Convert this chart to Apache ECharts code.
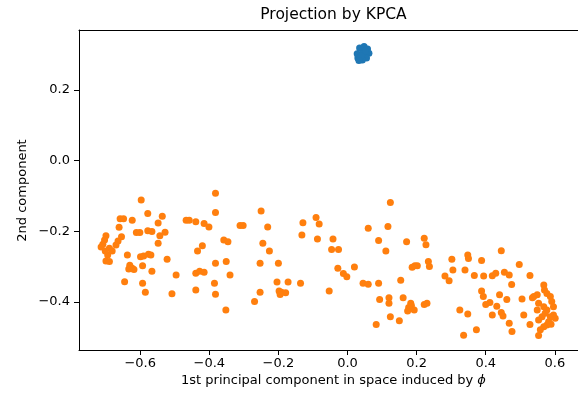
<!DOCTYPE html>
<html>
<head>
<meta charset="utf-8">
<script src="https://cdn.jsdelivr.net/npm/echarts@6/dist/echarts.min.js"></script>
<style>
  html, body { margin: 0; padding: 0; background: #fff; }
  #chart { width: 578px; height: 395px; }
</style>
</head>
<body>
<div id="chart"></div>
<script>
// Class 0: the tight cluster of the inner ring after projection
const blueX = [0.035, 0.048, 0.058, 0.062, 0.055, 0.043, 0.030, 0.028, 0.045, 0.040, 0.052, 0.033];
const blueY = [0.318, 0.322, 0.315, 0.303, 0.290, 0.284, 0.290, 0.302, 0.305, 0.296, 0.310, 0.283];

// Class 1: the outer ring, spread along the first component
const orangeX = [
  -0.597, -0.578, -0.536, -0.658, -0.648, -0.623, -0.548, -0.467, -0.458, -0.661,
  -0.611, -0.601, -0.578, -0.566, -0.528, -0.543, -0.699, -0.654, -0.664, -0.708,
  -0.548, -0.689, -0.670, -0.703, -0.694, -0.699, -0.689, -0.713, -0.701, -0.681,
  -0.637, -0.599, -0.590, -0.576, -0.569, -0.522, -0.630, -0.623, -0.618, -0.633,
  -0.593, -0.566, -0.496, -0.645, -0.593, -0.585, -0.508,
  -0.382, -0.382, -0.250, -0.439, -0.415, -0.401, -0.311, -0.302, -0.231, -0.358,
  -0.346, -0.420, -0.434, -0.245, -0.226, -0.382, -0.351, -0.253, -0.200, -0.439,
  -0.428, -0.415, -0.340, -0.385, -0.204, -0.172, -0.439, -0.382, -0.253, -0.198,
  -0.191, -0.179, -0.195, -0.269, -0.352,
  -0.136, -0.129, -0.091, -0.082, -0.132, -0.087, -0.042, -0.046, -0.026, -0.028,
  -0.012, -0.002, 0.020, -0.053, 0.045, 0.060, 0.090, 0.060, 0.090, 0.117,
  0.111, 0.124, 0.093, 0.120, 0.120, 0.124, 0.150, 0.083, 0.154, 0.161,
  0.171, 0.222, 0.227, 0.187, 0.195, 0.202, 0.234, 0.237, 0.302, 0.348,
  0.350, 0.388, 0.305, 0.340, 0.367, 0.394, 0.282, 0.294, 0.183, 0.177,
  0.185, 0.193, 0.174, 0.222, 0.230, 0.325, 0.348, 0.388, 0.393, 0.336, 0.373,
  0.445, 0.497, 0.528, 0.419, 0.429, 0.454, 0.468, 0.475, 0.440, 0.461,
  0.505, 0.412, 0.400, 0.432, 0.419, 0.445, 0.450, 0.468, 0.476, 0.510, 0.528,
  0.568, 0.570, 0.577, 0.587, 0.591, 0.596, 0.596, 0.587, 0.582, 0.577,
  0.568, 0.558, 0.553, 0.563, 0.553, 0.549, 0.539, 0.549, 0.553, 0.568,
  0.577, 0.572, 0.535, 0.601, 0.589
];
const orangeY = [
  -0.112, -0.150, -0.158, -0.165, -0.165, -0.169, -0.177, -0.169, -0.169, -0.189,
  -0.204, -0.204, -0.199, -0.201, -0.203, -0.213, -0.213, -0.216, -0.228, -0.237,
  -0.234, -0.248, -0.239, -0.225, -0.267, -0.284, -0.286, -0.245, -0.256, -0.256,
  -0.267, -0.272, -0.270, -0.265, -0.267, -0.279, -0.296, -0.305, -0.308, -0.307,
  -0.298, -0.313, -0.324, -0.343, -0.347, -0.373, -0.377,
  -0.093, -0.147, -0.143, -0.173, -0.178, -0.188, -0.184, -0.184, -0.188, -0.225,
  -0.230, -0.241, -0.256, -0.234, -0.256, -0.291, -0.286, -0.291, -0.291, -0.319,
  -0.313, -0.316, -0.324, -0.347, -0.344, -0.344, -0.366, -0.378, -0.373, -0.369,
  -0.373, -0.374, -0.379, -0.399, -0.423,
  -0.347, -0.176, -0.161, -0.180, -0.211, -0.222, -0.222, -0.252, -0.252, -0.305,
  -0.320, -0.329, -0.301, -0.369, -0.347, -0.350, -0.347, -0.192, -0.226, -0.187,
  -0.256, -0.119, -0.393, -0.388, -0.404, -0.442, -0.453, -0.464, -0.339, -0.388,
  -0.230, -0.220, -0.238, -0.302, -0.298, -0.298, -0.286, -0.300, -0.279, -0.267,
  -0.277, -0.283, -0.310, -0.310, -0.325, -0.327, -0.327, -0.340, -0.404, -0.416,
  -0.411, -0.423, -0.426, -0.407, -0.404, -0.423, -0.434, -0.369, -0.385, -0.494, -0.479,
  -0.255, -0.294, -0.325, -0.326, -0.319, -0.316, -0.324, -0.351, -0.380, -0.393,
  -0.392, -0.402, -0.407, -0.412, -0.437, -0.430, -0.440, -0.460, -0.484, -0.437, -0.464,
  -0.352, -0.366, -0.376, -0.385, -0.399, -0.414, -0.437, -0.442, -0.456, -0.465,
  -0.470, -0.479, -0.495, -0.442, -0.451, -0.423, -0.385, -0.380, -0.404, -0.414,
  -0.423, -0.432, -0.388, -0.446, -0.463
];

// Tick positions
const xTicks = [-0.6, -0.4, -0.2, 0.0, 0.2, 0.4, 0.6];
const yTicks = [-0.4, -0.2, 0.0, 0.2];

const FONT = 'DejaVu Sans';
const pairs = (xs, ys) => xs.map((x, i) => [x, ys[i]]);
const fmt = v => (v < -1e-9 ? '\u2212' : '') + Math.abs(v).toFixed(1);

const chart = echarts.init(document.getElementById('chart'), null, { renderer: 'canvas' });

const xRange = { min: -0.777, max: 0.667 };
const yRange = { min: -0.536, max: 0.369 };

chart.setOption({
  animation: false,
  backgroundColor: '#ffffff',
  grid: { left: 79, top: 30, right: -10.4, bottom: 45, containLabel: false },
  xAxis: [
    {
      type: 'value', position: 'bottom', ...xRange,
      axisLine: { show: true, onZero: false, lineStyle: { color: '#000', width: 1 } },
      axisTick: { show: true, length: 5, customValues: xTicks, lineStyle: { color: '#000', width: 1 } },
      axisLabel: { customValues: xTicks, formatter: fmt, margin: 7, color: '#000', fontFamily: FONT, fontSize: 13 },
      splitLine: { show: false }
    },
    {
      // top frame line
      type: 'value', position: 'top', ...xRange,
      axisLine: { show: true, onZero: false, lineStyle: { color: '#000', width: 1 } },
      axisTick: { show: false }, axisLabel: { show: false }, splitLine: { show: false }
    }
  ],
  yAxis: {
    type: 'value', ...yRange,
    axisLine: { show: true, onZero: false, lineStyle: { color: '#000', width: 1 } },
    axisTick: { show: true, length: 5, customValues: yTicks, lineStyle: { color: '#000', width: 1 } },
    axisLabel: { customValues: yTicks, formatter: fmt, margin: 9, color: '#000', fontFamily: FONT, fontSize: 13 },
    splitLine: { show: false }
  },
  series: [
    {
      type: 'scatter', xAxisIndex: 0, data: pairs(blueX, blueY),
      symbol: 'circle', symbolSize: 7, itemStyle: { color: '#1f77b4', opacity: 1 }
    },
    {
      type: 'scatter', xAxisIndex: 0, data: pairs(orangeX, orangeY),
      symbol: 'circle', symbolSize: 7, itemStyle: { color: '#ff7f0e', opacity: 1 }
    }
  ],
  graphic: [
    {
      type: 'text', x: 333.5, y: 15,
      style: { text: 'Projection by KPCA', fill: '#000', font: '15.5px "DejaVu Sans"', textAlign: 'center', textVerticalAlign: 'middle' }
    },
    {
      type: 'text', x: 333.5, y: 381,
      style: {
        text: '1st principal component in space induced by {i|\u03D5}',
        fill: '#000', font: '13px "DejaVu Sans"', textAlign: 'center', textVerticalAlign: 'middle',
        rich: { i: { fontStyle: 'italic', fontFamily: FONT, fontSize: 13, fill: '#000' } }
      }
    },
    {
      type: 'text', x: 23, y: 190.5, rotation: Math.PI / 2,
      style: { text: '2nd component', fill: '#000', font: '13px "DejaVu Sans"', textAlign: 'center', textVerticalAlign: 'middle' }
    }
  ]
});
</script>
</body>
</html>
